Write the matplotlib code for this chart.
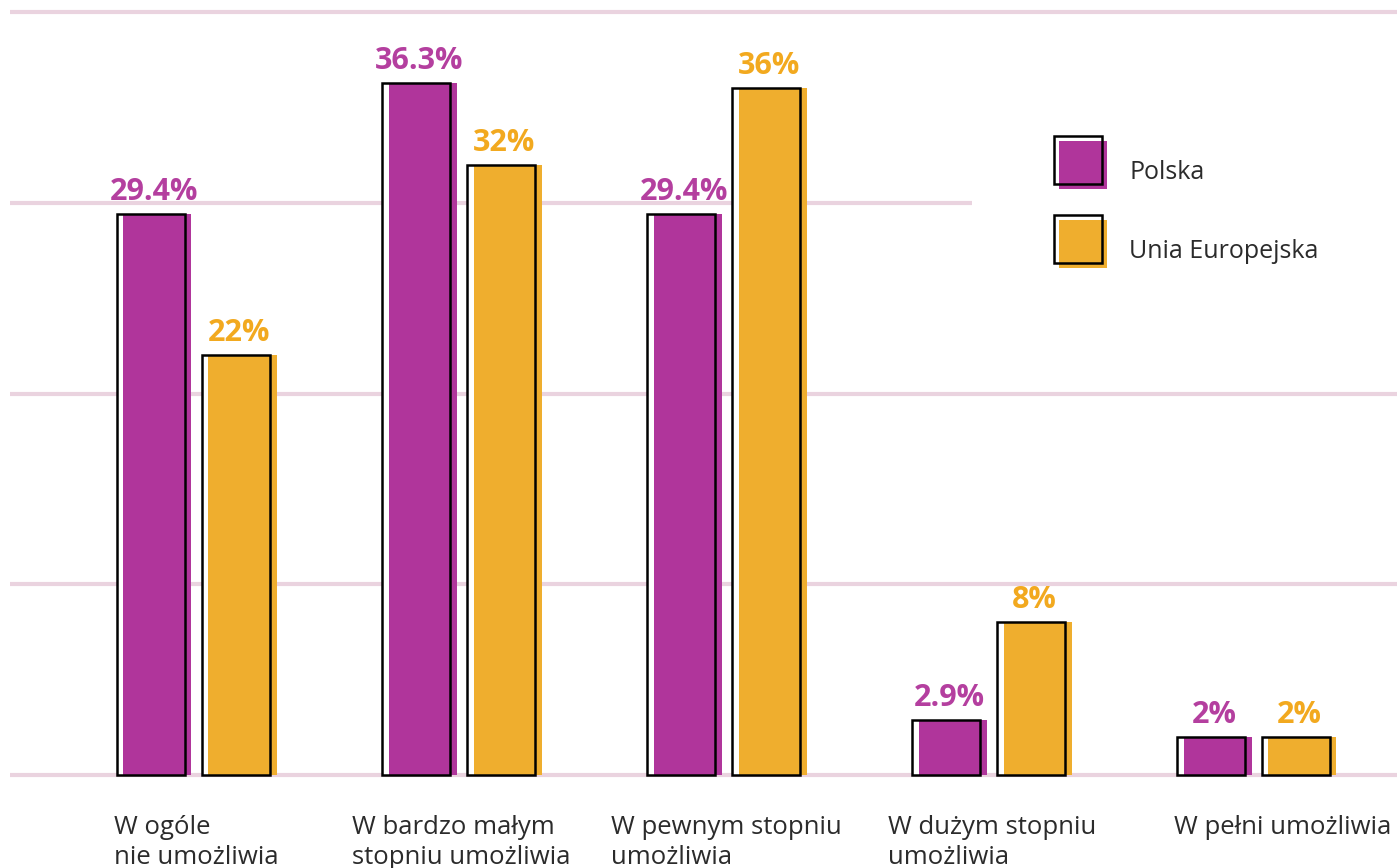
import matplotlib
matplotlib.use("Agg")
import matplotlib.pyplot as plt
from matplotlib.patches import Rectangle
from matplotlib.legend_handler import HandlerBase
import numpy as np

categories = ["W ogóle\nnie umożliwia", "W bardzo małym\nstopniu umożliwia",
              "W pewnym stopniu\numożliwia", "W dużym stopniu\numożliwia",
              "W pełni umożliwia"]
polska = [29.4, 36.3, 29.4, 2.9, 2.0]
ue = [22, 32, 36, 8, 2]
polska_labels = ["29.4%", "36.3%", "29.4%", "2.9%", "2%"]
ue_labels = ["22%", "32%", "36%", "8%", "2%"]
series_names = ["Polska", "Unia Europejska"]
grid_values = [0, 10, 20, 30, 40]

PURPLE = "#b0359b"
ORANGE = "#efae2e"
PURPLE_TXT = "#b43f9f"
ORANGE_TXT = "#f2a91f"
GRID = "#ead3df"
TEXT = "#2b2b2b"
FONT = "Open Sans"

W, H = 1397, 868
fig = plt.figure(figsize=(W / 100, H / 100), dpi=100)
ax = fig.add_axes([0, 0, 1, 1])
ax.axis("off")

px_per_unit_x = 265.0
x0_px = 193.5
ax.set_xlim((0 - x0_px) / px_per_unit_x, (W - x0_px) / px_per_unit_x)
px_per_pct = 19.075
base_px = 93.0
ax.set_ylim(-base_px / px_per_pct, (H - base_px) / px_per_pct)

def px2x(p):
    return p / px_per_unit_x

def px2y(p):
    return p / px_per_pct

x = np.arange(len(categories))
bw = px2x(68)
half = px2x(42.5)
shift = px2x(6.5)

# gridlines
left = (10 - x0_px) / px_per_unit_x
right = (W - x0_px) / px_per_unit_x
legend_left = (972 - x0_px) / px_per_unit_x
for g in grid_values:
    ax.hlines(g, left, legend_left if g == 30 else right, colors=GRID,
              linewidth=3.0, zorder=0)

for vals, xs, col in [(polska, x - half, PURPLE), (ue, x + half, ORANGE)]:
    ax.bar(xs, vals, width=bw, color="white", edgecolor="none", zorder=1)
    ax.bar(xs + shift, vals, width=bw, color=col, edgecolor="none", zorder=2)
    ax.bar(xs, vals, width=bw, fill=False, edgecolor="black", linewidth=1.8,
           zorder=3)

for xi, v, lab in zip(x - half, polska, polska_labels):
    ax.text(xi + shift / 2, v + px2y(14), lab, ha="center", va="baseline",
            color=PURPLE_TXT, fontsize=22, fontweight="bold", family=FONT)
for xi, v, lab in zip(x + half, ue, ue_labels):
    ax.text(xi + shift / 2, v + px2y(14), lab, ha="center", va="baseline",
            color=ORANGE_TXT, fontsize=22, fontweight="bold", family=FONT)

label_nudge_px = [0, 0, 0, 0, 26]
for xi, cat, nd in zip(x, categories, label_nudge_px):
    ax.text(xi + shift / 2 + px2x(nd), -px2y(40), cat, ha="center", va="top",
            ma="left", color=TEXT, fontsize=18.5, family=FONT,
            linespacing=1.28)


PT = 72.0 / 100.0  # points per pixel


class OffsetSquareHandler(HandlerBase):
    def create_artists(self, legend, orig_handle, xdescent, ydescent, width,
                       height, fontsize, trans):
        off = 5 * PT
        side = 48 * PT
        ybot = -5 * PT
        col = orig_handle.get_facecolor()
        fill = Rectangle((-xdescent + off, ybot - off), side, side,
                         facecolor=col, edgecolor="none", transform=trans)
        outline = Rectangle((-xdescent, ybot), side, side,
                            facecolor="none", edgecolor="black",
                            linewidth=1.8, transform=trans)
        return [fill, outline]


handles = [Rectangle((0, 0), 1, 1, facecolor=PURPLE),
           Rectangle((0, 0), 1, 1, facecolor=ORANGE)]
leg_fs = 18
hh = 2.577
box_h = leg_fs * (hh - 0.35 * (hh - 0.7))
box_desc = leg_fs * 0.35 * (hh - 0.7)
rect_top = -5 * PT + 48 * PT
extra_px = (rect_top - (box_h - box_desc)) / PT
leg = ax.legend(handles, series_names, loc="upper left",
                bbox_to_anchor=(1054 / W, 1 - (136 + extra_px) / H),
                frameon=False, borderpad=0, borderaxespad=0,
                handlelength=48 * PT / leg_fs, handleheight=hh,
                handletextpad=1.08, labelspacing=1.24,
                handler_map={Rectangle: OffsetSquareHandler()},
                prop={"family": FONT, "size": leg_fs})
for t in leg.get_texts():
    t.set_color(TEXT)

fig.savefig("out.png", dpi=100, facecolor="white")
